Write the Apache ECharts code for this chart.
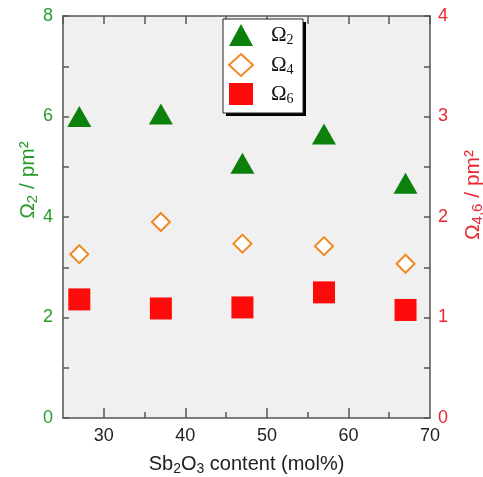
<!DOCTYPE html>
<html>
<head>
<meta charset="utf-8">
<script src="https://cdn.jsdelivr.net/npm/echarts@6/dist/echarts.min.js"></script>
<style>
  html, body { margin: 0; padding: 0; background: #fff; }
  #chart { width: 483px; height: 477px; }
</style>
</head>
<body>
<div id="chart"></div>
<script>
// Sb2O3 content (mol%)
const content = [27, 37, 47, 57, 67];
// Judd-Ofelt parameters (pm^2)
const omega2 = [6.0, 6.05, 5.07, 5.65, 4.67];   // left axis
const omega4 = [1.63, 1.95, 1.735, 1.71, 1.535]; // right axis
const omega6 = [1.18, 1.09, 1.10, 1.25, 1.075];  // right axis

const xLabels = [30, 40, 50, 60, 70];
const leftLabels = [0, 2, 4, 6, 8];
const rightLabels = [0, 1, 2, 3, 4];

const GREEN = '#0b800b';
const GREEN_TXT = '#2a9a2a';
const RED = '#ff0a0a';
const RED_TXT = '#ea2630';
const ORANGE = '#ef8a22';
const AXIS = '#555';
const SANS = 'Liberation Sans, Arial, sans-serif';
const SERIF = 'Liberation Serif, Times New Roman, serif';

const pairs = (ys) => content.map((x, i) => [x, ys[i]]);

const chart = echarts.init(document.getElementById('chart'));

const axisLine = { show: true, lineStyle: { color: AXIS, width: 1.5 } };

// legend frame with a hard drop shadow
const LEG = { x: 223, y: 19, w: 80, h: 94 };

chart.setOption({
  animation: false,
  backgroundColor: '#fff',
  grid: {
    left: 63, right: 53, top: 16, bottom: 59,
    outerBoundsMode: 'none', containLabel: false,
    show: true, backgroundColor: '#f0f0f0', borderWidth: 0
  },
  legend: {
    orient: 'vertical',
    left: LEG.x, top: LEG.y,
    padding: [5, 4, 5, 5],
    itemWidth: 24, itemHeight: 22, itemGap: 6,
    z: 10,
    data: ['Ω2', 'Ω4', 'Ω6'],
    formatter: (n) => '{o|Ω}{s|' + n.slice(1) + '}',
    textStyle: {
      rich: {
        o: { fontFamily: SERIF, fontSize: 21, color: '#111', padding: [0, 0, 0, 13] },
        s: { fontFamily: SERIF, fontSize: 14, color: '#111', padding: [10, 0, 0, 0] }
      }
    }
  },
  xAxis: [
    {
      type: 'value', min: 25, max: 70, interval: 5, position: 'bottom',
      axisLine,
      splitLine: { show: false },
      axisTick: { show: true, inside: true, length: 10, lineStyle: { color: AXIS, width: 1.5 }, customValues: [30, 40, 50, 60] },
      axisLabel: { customValues: xLabels, margin: 9, fontFamily: SANS, fontSize: 18, color: '#222' },
      name: 'Sb{sub|2}O{sub|3} content (mol%)',
      nameLocation: 'middle', nameGap: 35,
      nameTextStyle: {
        fontFamily: SANS, fontSize: 20, color: '#222',
        rich: { sub: { fontFamily: SANS, fontSize: 14, color: '#222', padding: [9, 0, 0, 0] } }
      }
    },
    {
      type: 'value', min: 25, max: 70, interval: 5, position: 'bottom',
      axisLine: { show: false }, splitLine: { show: false },
      axisTick: { show: true, inside: true, length: 6, lineStyle: { color: AXIS, width: 1.5 }, customValues: [35, 45, 55, 65] },
      axisLabel: { show: false }
    },
    {
      type: 'value', min: 25, max: 70, interval: 5, position: 'top',
      axisLine, splitLine: { show: false },
      axisTick: { show: true, inside: true, length: 8, lineStyle: { color: AXIS, width: 1.5 } },
      axisLabel: { show: false }
    }
  ],
  yAxis: [
    {
      type: 'value', min: 0, max: 8, interval: 1, position: 'left',
      axisLine, splitLine: { show: false },
      axisTick: { show: true, inside: true, length: 6, lineStyle: { color: AXIS, width: 1.5 } },
      axisLabel: { customValues: leftLabels, margin: 10, fontFamily: SANS, fontSize: 18, color: GREEN_TXT }
    },
    {
      type: 'value', min: 0, max: 4, interval: 0.5, position: 'right',
      axisLine, splitLine: { show: false },
      axisTick: { show: true, inside: true, length: 6, lineStyle: { color: AXIS, width: 1.5 } },
      axisLabel: { customValues: rightLabels, margin: 8, fontFamily: SANS, fontSize: 18, color: RED_TXT }
    }
  ],
  graphic: [
    {
      type: 'rect', z: 8,
      shape: { x: LEG.x + 3, y: LEG.y + 3, width: LEG.w, height: LEG.h },
      style: { fill: '#000' }
    },
    {
      type: 'rect', z: 9,
      shape: { x: LEG.x, y: LEG.y, width: LEG.w, height: LEG.h },
      style: { fill: '#fff', stroke: '#222', lineWidth: 1 }
    },
    {
      type: 'text', x: 28, y: 180, rotation: Math.PI / 2,
      style: {
        text: '{o|Ω}{s|2}{o| / pm²}',
        align: 'center', verticalAlign: 'middle',
        rich: {
          o: { fontFamily: SANS, fontSize: 21, fill: GREEN_TXT },
          s: { fontFamily: SANS, fontSize: 15, fill: GREEN_TXT, padding: [10, 0, 0, 0] }
        }
      }
    },
    {
      type: 'text', x: 473, y: 195, rotation: Math.PI / 2,
      style: {
        text: '{o|Ω}{s|4,6}{o| / pm²}',
        align: 'center', verticalAlign: 'middle',
        rich: {
          o: { fontFamily: SANS, fontSize: 21, fill: RED_TXT },
          s: { fontFamily: SANS, fontSize: 15, fill: RED_TXT, padding: [10, 0, 0, 0] }
        }
      }
    }
  ],
  series: [
    {
      name: 'Ω2', type: 'scatter', xAxisIndex: 0, yAxisIndex: 0,
      symbol: 'triangle', symbolSize: [24, 21],
      itemStyle: { color: GREEN, opacity: 1 },
      data: pairs(omega2)
    },
    {
      name: 'Ω4', type: 'scatter', xAxisIndex: 0, yAxisIndex: 1,
      symbol: 'diamond', symbolSize: 18,
      itemStyle: { color: '#fff', borderColor: ORANGE, borderWidth: 2, opacity: 1 },
      data: pairs(omega4)
    },
    {
      name: 'Ω6', type: 'scatter', xAxisIndex: 0, yAxisIndex: 1,
      symbol: 'rect', symbolSize: 22,
      itemStyle: { color: RED, opacity: 1 },
      data: pairs(omega6)
    }
  ]
});
</script>
</body>
</html>
